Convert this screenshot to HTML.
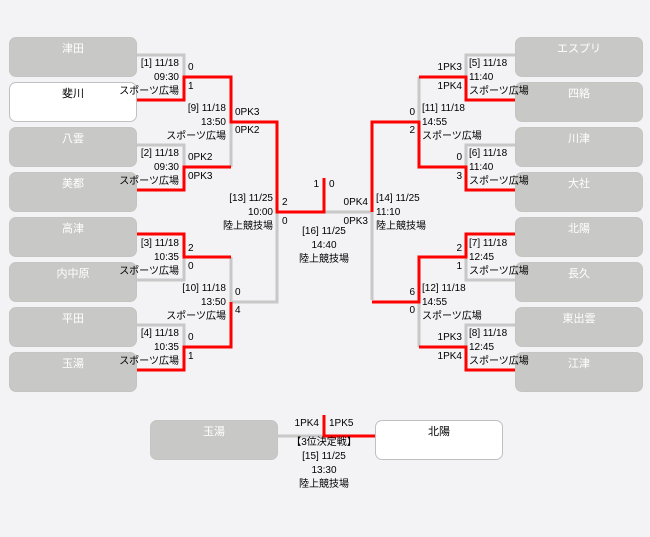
<!DOCTYPE html>
<html><head><meta charset="utf-8"><style>
body{margin:0;background:#f3f2f5;width:650px;height:537px;position:relative;overflow:hidden;font-family:"Liberation Sans","Noto Sans CJK JP",sans-serif;font-size:10px;color:#000}
.b{position:absolute;width:126px;height:38px;border:1px solid #c4c5c2;background:#c8c9c6;border-radius:7px;color:#fff;text-align:center;font-size:11px;line-height:22px}
.w{background:#fff;color:#000;border-color:#c0c0c0}
.t{position:absolute;white-space:nowrap;line-height:14px}
.r{text-align:right}
svg{position:absolute;left:0;top:0}
</style></head><body>
<div class="b" style="left:9px;top:37px">津田</div>
<div class="b w" style="left:9px;top:82px">斐川</div>
<div class="b" style="left:9px;top:127px">八雲</div>
<div class="b" style="left:9px;top:172px">美都</div>
<div class="b" style="left:9px;top:217px">高津</div>
<div class="b" style="left:9px;top:262px">内中原</div>
<div class="b" style="left:9px;top:307px">平田</div>
<div class="b" style="left:9px;top:352px">玉湯</div>
<div class="b" style="left:515px;top:37px">エスプリ</div>
<div class="b" style="left:515px;top:82px">四絡</div>
<div class="b" style="left:515px;top:127px">川津</div>
<div class="b" style="left:515px;top:172px">大社</div>
<div class="b" style="left:515px;top:217px">北陽</div>
<div class="b" style="left:515px;top:262px">長久</div>
<div class="b" style="left:515px;top:307px">東出雲</div>
<div class="b" style="left:515px;top:352px">江津</div>
<div class="b" style="left:150px;top:420px">玉湯</div>
<div class="b w" style="left:375px;top:420px">北陽</div>

<svg width="650" height="537" fill="none" stroke-width="3">
<g stroke="#c8c8c8">
<path d="M137 55H184V77"/><path d="M231 122V167"/><path d="M137 145H184V167"/>
<path d="M324 212H372V300"/>
<path d="M137 280H184V257"/><path d="M231 257V302H277V212"/><path d="M137 325H184V347"/>
<path d="M515 55H466V77"/><path d="M419 77V122"/><path d="M515 145H466V167"/>
<path d="M515 280H466V257"/><path d="M419 302V347"/><path d="M515 325H466V347"/>
<path d="M277 436H324"/>
</g>
<g stroke="#ff0000">
<path d="M137 100H184V77H231V122H277V212H324V178"/>
<path d="M137 190H184V167H231"/>
<path d="M137 234H184V257H231"/>
<path d="M137 370H184V347H231V302"/>
<path d="M515 100H466V77H419"/>
<path d="M515 190H466V167H419V122H372V212"/>
<path d="M515 234H466V257H419V302H372"/>
<path d="M515 370H466V347H419"/>
<path d="M324 415V436H375"/>
</g>
</svg>

<div class="t r" style="right:471px;top:57px">[1] 11/18<br>09:30<br>スポーツ広場</div>
<div class="t" style="left:188px;top:61px">0</div><div class="t" style="left:188px;top:80px">1</div>
<div class="t r" style="right:471px;top:147px">[2] 11/18<br>09:30<br>スポーツ広場</div>
<div class="t" style="left:188px;top:151px">0PK2</div><div class="t" style="left:188px;top:170px">0PK3</div>
<div class="t r" style="right:471px;top:237px">[3] 11/18<br>10:35<br>スポーツ広場</div>
<div class="t" style="left:188px;top:242px">2</div><div class="t" style="left:188px;top:260px">0</div>
<div class="t r" style="right:471px;top:327px">[4] 11/18<br>10:35<br>スポーツ広場</div>
<div class="t" style="left:188px;top:331px">0</div><div class="t" style="left:188px;top:350px">1</div>

<div class="t r" style="right:424px;top:102px">[9] 11/18<br>13:50<br>スポーツ広場</div>
<div class="t" style="left:235px;top:106px">0PK3</div><div class="t" style="left:235px;top:124px">0PK2</div>
<div class="t r" style="right:424px;top:282px">[10] 11/18<br>13:50<br>スポーツ広場</div>
<div class="t" style="left:235px;top:286px">0</div><div class="t" style="left:235px;top:304px">4</div>
<div class="t r" style="right:377px;top:192px">[13] 11/25<br>10:00<br>陸上競技場</div>
<div class="t" style="left:282px;top:196px">2</div><div class="t" style="left:282px;top:215px">0</div>

<div class="t r" style="right:331px;top:178px">1</div><div class="t" style="left:329px;top:178px">0</div>
<div class="t" style="left:274px;top:225px;width:100px;text-align:center">[16] 11/25<br>14:40<br>陸上競技場</div>

<div class="t" style="left:469px;top:57px">[5] 11/18<br>11:40<br>スポーツ広場</div>
<div class="t r" style="right:188px;top:61px">1PK3</div><div class="t r" style="right:188px;top:80px">1PK4</div>
<div class="t" style="left:469px;top:147px">[6] 11/18<br>11:40<br>スポーツ広場</div>
<div class="t r" style="right:188px;top:151px">0</div><div class="t r" style="right:188px;top:170px">3</div>
<div class="t" style="left:469px;top:237px">[7] 11/18<br>12:45<br>スポーツ広場</div>
<div class="t r" style="right:188px;top:242px">2</div><div class="t r" style="right:188px;top:260px">1</div>
<div class="t" style="left:469px;top:327px">[8] 11/18<br>12:45<br>スポーツ広場</div>
<div class="t r" style="right:188px;top:331px">1PK3</div><div class="t r" style="right:188px;top:350px">1PK4</div>

<div class="t" style="left:422px;top:102px">[11] 11/18<br>14:55<br>スポーツ広場</div>
<div class="t r" style="right:235px;top:106px">0</div><div class="t r" style="right:235px;top:124px">2</div>
<div class="t" style="left:422px;top:282px">[12] 11/18<br>14:55<br>スポーツ広場</div>
<div class="t r" style="right:235px;top:286px">6</div><div class="t r" style="right:235px;top:304px">0</div>
<div class="t" style="left:376px;top:192px">[14] 11/25<br>11:10<br>陸上競技場</div>
<div class="t r" style="right:282px;top:196px">0PK4</div><div class="t r" style="right:282px;top:215px">0PK3</div>

<div class="t r" style="right:331px;top:417px">1PK4</div><div class="t" style="left:329px;top:417px">1PK5</div>
<div class="t" style="left:264px;top:436px;width:120px;text-align:center">【3位決定戦】<br>[15] 11/25<br>13:30<br>陸上競技場</div>
</body></html>
